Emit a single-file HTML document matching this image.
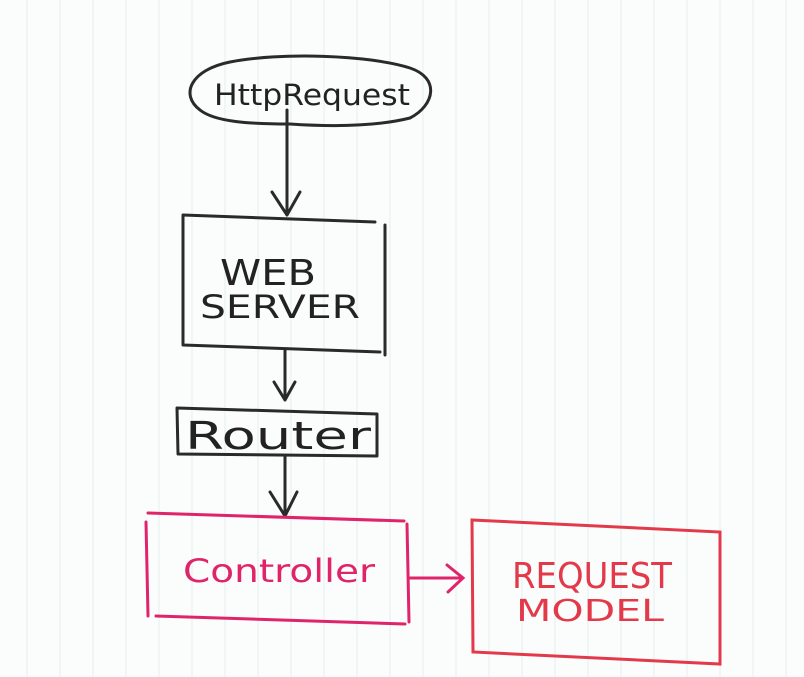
<!DOCTYPE html>
<html><head><meta charset="utf-8"><style>
html,body{margin:0;padding:0;background:#fbfcfc}
svg{display:block}
text{font-family:"DejaVu Sans","Liberation Sans",sans-serif}
</style></head><body>
<svg width="804" height="677" viewBox="0 0 804 677" xmlns="http://www.w3.org/2000/svg">
<rect width="804" height="677" fill="#fbfcfc"/>
<g stroke="#e8f2f3" stroke-width="1.2">
<line x1="27" y1="0" x2="27" y2="677"/><line x1="60" y1="0" x2="60" y2="677"/><line x1="93" y1="0" x2="93" y2="677"/><line x1="126" y1="0" x2="126" y2="677"/><line x1="159" y1="0" x2="159" y2="677"/><line x1="192" y1="0" x2="192" y2="677"/><line x1="225" y1="0" x2="225" y2="677"/><line x1="258" y1="0" x2="258" y2="677"/><line x1="291" y1="0" x2="291" y2="677"/><line x1="324" y1="0" x2="324" y2="677"/><line x1="357" y1="0" x2="357" y2="677"/><line x1="390" y1="0" x2="390" y2="677"/><line x1="423" y1="0" x2="423" y2="677"/><line x1="456" y1="0" x2="456" y2="677"/><line x1="489" y1="0" x2="489" y2="677"/><line x1="522" y1="0" x2="522" y2="677"/><line x1="555" y1="0" x2="555" y2="677"/><line x1="588" y1="0" x2="588" y2="677"/><line x1="621" y1="0" x2="621" y2="677"/><line x1="654" y1="0" x2="654" y2="677"/><line x1="687" y1="0" x2="687" y2="677"/><line x1="720" y1="0" x2="720" y2="677"/><line x1="753" y1="0" x2="753" y2="677"/><line x1="786" y1="0" x2="786" y2="677"/>
</g>
<g fill="none" stroke="#2a2a2a" stroke-width="3" stroke-linecap="round" stroke-linejoin="round">
<path d="M200,110 C180,95 190,70 230,62 C280,52 370,55 410,68 C440,78 435,105 410,118 C370,128 320,126 290,124 C250,124 215,122 200,110 Z"/>
<path d="M287,110 L287,215 M272,192 L287,215 L300,192"/>
<path d="M183,215 L375,222 M385,225 L385,355 M183,215 L183,345 L380,352"/>
<path d="M285,350 L285,400 M274,382 L285,400 L295,382"/>
<path d="M177,408 L377,414 L377,456 L178,454 Z"/>
<path d="M285,456 L285,516 M270,492 L285,516 L297,492"/>
</g>
<g fill="none" stroke="#e0246a" stroke-width="3" stroke-linecap="round">
<path d="M148,513 L404,521 M146,522 L148,616 M156,616 L405,624 M407,524 L409,622"/>
<path d="M410,578 L463,578 M447,565 L463,578 L448,592"/>
</g>
<g fill="none" stroke="#e23a4a" stroke-width="3" stroke-linecap="round">
<path d="M472,520 L720,532 L720,664 L473,652 Z"/>
</g>
<text x="312" y="105" font-size="29" fill="#222" text-anchor="middle" textLength="196" lengthAdjust="spacingAndGlyphs">HttpRequest</text>
<text x="268" y="285" font-size="36" fill="#222" text-anchor="middle" textLength="96" lengthAdjust="spacingAndGlyphs">WEB</text>
<text x="280" y="318" font-size="32" fill="#222" text-anchor="middle" textLength="160" lengthAdjust="spacingAndGlyphs">SERVER</text>
<text x="278" y="449" font-size="38" fill="#222" text-anchor="middle" textLength="186" lengthAdjust="spacingAndGlyphs">Router</text>
<text x="279" y="582" font-size="32" fill="#e0246a" text-anchor="middle" textLength="192" lengthAdjust="spacingAndGlyphs">Controller</text>
<text x="592" y="588" font-size="36" fill="#e23a4a" text-anchor="middle" textLength="160" lengthAdjust="spacingAndGlyphs">REQUEST</text>
<text x="590" y="621" font-size="30" fill="#e23a4a" text-anchor="middle" textLength="148" lengthAdjust="spacingAndGlyphs">MODEL</text>
</svg>
</body></html>
